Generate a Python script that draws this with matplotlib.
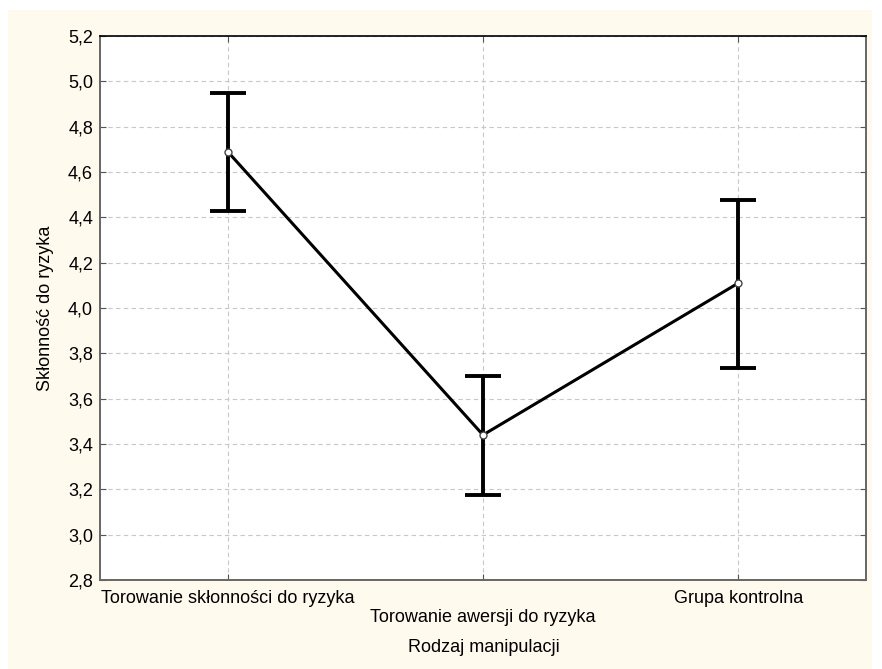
import matplotlib
matplotlib.use("Agg")
import matplotlib.pyplot as plt
from matplotlib.patches import Rectangle
from matplotlib.ticker import FuncFormatter

# dane
kategorie = ["Torowanie skłonności do ryzyka",
             "Torowanie awersji do ryzyka",
             "Grupa kontrolna"]
srednie = [4.69, 3.44, 4.11]
dolne = [4.43, 3.175, 3.735]
gorne = [4.95, 3.70, 4.475]

plt.rcParams["font.family"] = ["Liberation Sans", "DejaVu Sans"]

fig = plt.figure(figsize=(8.82, 6.69), dpi=100, facecolor="white")
# kremowe tło jak w programie STATISTICA
fig.patches.append(Rectangle((8 / 882, 0), 864 / 882, 659 / 669, transform=fig.transFigure,
                             facecolor="#fff9ee", edgecolor="none", zorder=-10))
ax = fig.add_axes([100 / 882, 1 - 580 / 669, 766 / 882, 544 / 669])
ax.set_facecolor("white")

x = list(range(len(kategorie)))
err = [[s - d for s, d in zip(srednie, dolne)], [g - s for s, g in zip(srednie, gorne)]]
ax.errorbar(x, srednie, yerr=err, fmt="none", ecolor="black", elinewidth=2.8,
            capsize=13, capthick=2.8, zorder=3)
ax.plot(x, srednie, color="black", lw=2.2, marker="o", markersize=5,
        markerfacecolor="white", markeredgecolor="#444444", markeredgewidth=1, zorder=4)

ax.set_xlim(-0.5, 2.5)
ax.set_ylim(2.8, 5.2)
ax.set_yticks([2.8 + 0.2 * i for i in range(13)])
ax.yaxis.set_major_formatter(FuncFormatter(lambda v, p: f"{v:.1f}".replace(".", ",")))
ax.set_xticks(x)
ax.set_xticklabels([])
for i, lab in enumerate(kategorie):
    dy = -7 if i % 2 == 0 else -21
    ax.annotate(lab, (i, 2.8), xytext=(0, dy), textcoords="offset points",
                ha="center", va="top", fontsize=13)

ax.grid(True, color="#c8c8c8", ls=(0, (4, 3)), lw=0.8)
ax.set_axisbelow(True)
ax.tick_params(direction="in", length=4, top=True, right=True, labelsize=13,
               color="#555555")
ax.tick_params(axis="y", pad=5)

for s in ["left", "bottom", "right"]:
    ax.spines[s].set_color("#666666")
    ax.spines[s].set_linewidth(1.4)
ax.spines["top"].set_color("black")
ax.spines["top"].set_linewidth(1.2)

ax.set_ylabel("Skłonność do ryzyka", fontsize=13, labelpad=10)
fig.text(484 / 882, 1 - 648 / 669, "Rodzaj manipulacji", ha="center", va="center",
         fontsize=13)

fig.savefig("out.png", dpi=100, facecolor=fig.get_facecolor())
